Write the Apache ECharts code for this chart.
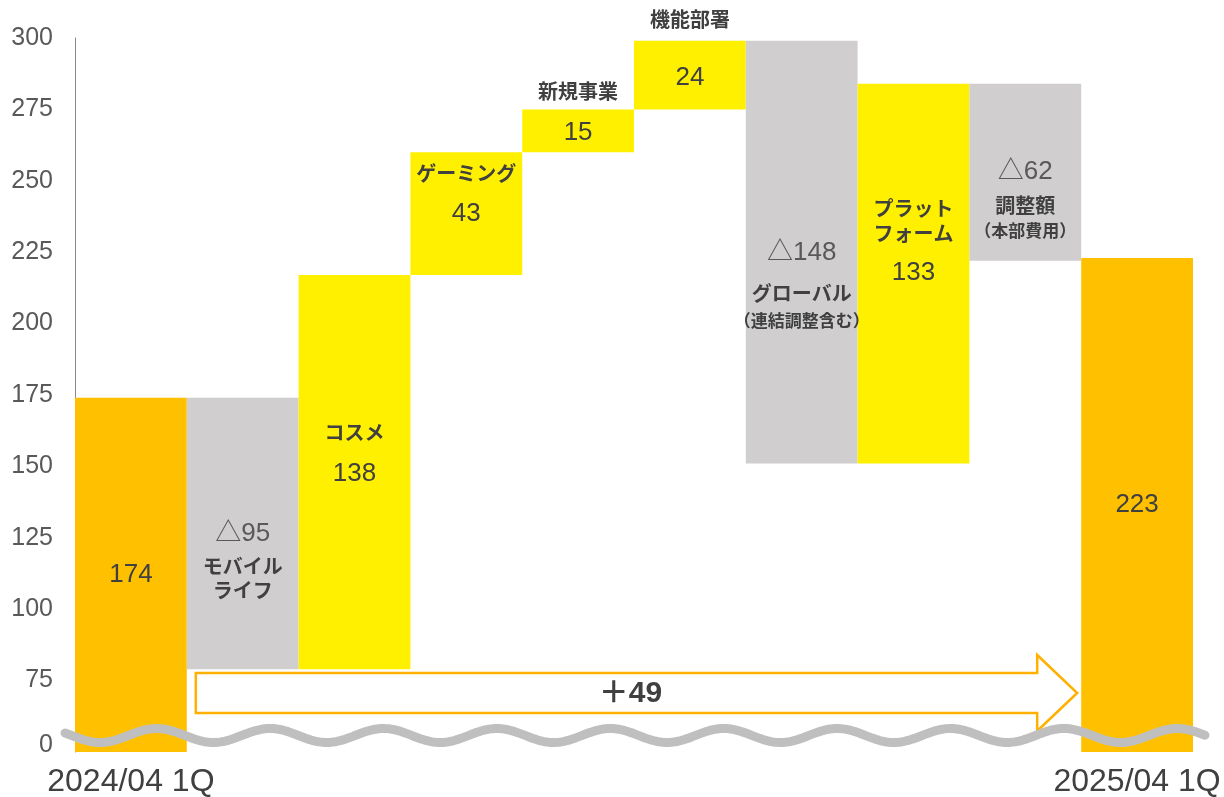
<!DOCTYPE html>
<html><head><meta charset="utf-8">
<script src="https://cdn.jsdelivr.net/npm/echarts@6/dist/echarts.min.js"></script>
<style>html,body{margin:0;padding:0;background:#fff}#c{width:1224px;height:797px}</style>
</head><body><div id="c"></div>
<script>
// ---------- data ----------
const categories = ['2024/04 1Q','モバイルライフ','コスメ','ゲーミング','新規事業','機能部署','グローバル（連結調整含む）','プラットフォーム','調整額（本部費用）','2025/04 1Q'];
const nameLines = [null, ['モバイル','ライフ'], ['コスメ'], ['ゲーミング'], ['新規事業'], ['機能部署'], ['グローバル','（連結調整含む）'], ['プラット','フォーム'], ['調整額','（本部費用）'], null];
const changes = [174, -95, 138, 43, 15, 24, -148, 133, -62, 223];
const isTotal = [true, false, false, false, false, false, false, false, false, true];
const yTickValues = [0, 75, 100, 125, 150, 175, 200, 225, 250, 275, 300];
const totalChangeLabel = '＋49';

// ---------- layout / style ----------
const AXIS_FLOOR = 50;      // axis is broken: displayed "0" sits just above the floor
const ZERO_POS = 52.4;
const COLORS = { total: '#FFC000', up: '#FFF000', down: '#D0CECE' };
const FONT = "'Liberation Sans', Arial, 'Noto Sans CJK JP', sans-serif";
const JFONT = "'Noto Sans CJK JP', 'Liberation Sans', sans-serif";
const baseRich = {
  v: { fontSize: 26, color: '#404040', fontFamily: FONT },
  d: { fontSize: 26, color: '#595959', fontFamily: FONT },
  n: { fontSize: 20, fontWeight: 'bold', color: '#404040', fontFamily: JFONT },
  s: { fontSize: 17, fontWeight: 'bold', color: '#404040', fontFamily: JFONT }
};
// centre of each label line, px from bar top
const labelCentres = ['inside', [136,169,193], [157,199], [21,62], [-18,23], [-21,37], [212,253,278], [125,150,189], [88,122,147], 'inside'];

// ---------- build waterfall ----------
const bases = [], heights = [];
let run = 0;
changes.forEach((c, i) => {
  if (isTotal[i]) { bases.push(0); heights.push(c); run = c; }
  else if (c >= 0) { bases.push(run); heights.push(c); run += c; }
  else { run += c; bases.push(run); heights.push(-c); }
});

function buildLabel(i) {
  const c = changes[i];
  if (labelCentres[i] === 'inside') {
    return { show: true, position: 'inside', formatter: '{v|' + c + '}', rich: baseRich };
  }
  const lines = [];
  const names = (nameLines[i] || []).map(t => ({ t, s: t.startsWith('（') ? 's' : 'n' }));
  if (c < 0) { lines.push({ t: '△' + (-c), s: 'd' }); lines.push(...names); }
  else { lines.push(...names); lines.push({ t: String(c), s: 'v' }); }
  const cs = labelCentres[i];
  const rich = {};
  const firstH = lines[0].s === 'v' || lines[0].s === 'd' ? 30 : 24;
  let b = cs[0] - firstH / 2;
  const top = b;
  const parts = [];
  lines.forEach((ln, k) => {
    const nb = 2 * cs[k] - b;
    const key = 'k' + k;
    rich[key] = Object.assign({}, baseRich[ln.s], { lineHeight: Math.max(nb - b, 1) });
    parts.push('{' + key + '|' + ln.t + '}');
    b = nb;
  });
  return { show: true, position: ['50%', top], align: 'center', verticalAlign: 'top', formatter: parts.join('\n'), rich };
}

const visibleData = heights.map((h, i) => ({
  value: h,
  itemStyle: { color: isTotal[i] ? COLORS.total : (changes[i] >= 0 ? COLORS.up : COLORS.down) },
  label: buildLabel(i)
}));

const chart = echarts.init(document.getElementById('c'), null, { renderer: 'canvas' });
chart.setOption({
  animation: false,
  backgroundColor: '#fff',
  grid: { left: 75, right: 31, top: 38, bottom: 45, containLabel: false, outerBoundsMode: 'none' },
  xAxis: {
    type: 'category', data: categories,
    axisLine: { show: false }, axisTick: { show: false },
    axisLabel: {
      interval: (i) => i === 0 || i === categories.length - 1,
      fontSize: 32, color: '#404040', fontFamily: FONT, margin: 14
    }
  },
  yAxis: {
    type: 'value', min: AXIS_FLOOR, max: 300, interval: 25,
    splitLine: { show: false },
    axisLine: { show: true, lineStyle: { color: '#898989', width: 1 } },
    axisTick: { show: false },
    axisLabel: {
      customValues: yTickValues.map(v => v === 0 ? ZERO_POS : v),
      formatter: (v) => v < 75 ? String(yTickValues[0]) : String(Math.round(v)),
      fontSize: 25, color: '#595959', fontFamily: FONT, margin: 22
    }
  },
  series: [
    { type: 'bar', stack: 'w', data: bases, barCategoryGap: '0%', silent: true,
      itemStyle: { color: 'rgba(0,0,0,0)' }, label: { show: false }, emphasis: { disabled: true } },
    { type: 'bar', stack: 'w', data: visibleData, barCategoryGap: '0%', silent: true,
      emphasis: { disabled: true } }
  ]
});

// ---------- decorations: break wave and total change arrow ----------
function decorate() {
  const p0 = chart.convertToPixel({ gridIndex: 0 }, [0, 300]);
  const p1 = chart.convertToPixel({ gridIndex: 0 }, [1, 300]);
  const pLast = chart.convertToPixel({ gridIndex: 0 }, [categories.length - 1, 300]);
  const catW = p1[0] - p0[0];
  const gridLeft = p0[0] - catW / 2;
  const gridRight = pLast[0] + catW / 2;
  const gridBottom = chart.convertToPixel({ gridIndex: 0 }, [0, AXIS_FLOOR])[1];

  // wave
  const waveY = gridBottom - 16.5, amp = 7, period = 113.4, troughX = gridLeft + 25;
  const pts = [];
  for (let x = gridLeft - 10; x <= gridRight + 12; x += 2) {
    pts.push([x, waveY + amp * Math.cos(2 * Math.PI * (x - troughX) / period)]);
  }
  // arrow
  const ax0 = p1[0] - catW / 2 + 9;
  const tip = pLast[0] - catW / 2 - 4;
  const headBase = tip - 40;
  const ay = gridBottom - 59;
  const bh = 20, hh = 38;
  const arrowPts = [[ax0, ay - bh], [headBase, ay - bh], [headBase, ay - hh], [tip, ay], [headBase, ay + hh], [headBase, ay + bh], [ax0, ay + bh]];

  chart.setOption({
    graphic: [
      { type: 'polygon', z: 10, shape: { points: arrowPts },
        style: { fill: '#fff', stroke: '#FFB000', lineWidth: 2.5, lineJoin: 'miter' } },
      { type: 'text', z: 11, x: (ax0 + tip) / 2 - 6, y: ay + 1,
        style: { text: totalChangeLabel, fill: '#404040', font: 'bold 30px ' + FONT, align: 'center', verticalAlign: 'middle' } },
      { type: 'polyline', z: 12, shape: { points: pts },
        style: { stroke: '#BFBFBF', lineWidth: 9, fill: null, lineCap: 'round', lineJoin: 'round' } }
    ]
  });
}
decorate();
</script>
</body></html>
